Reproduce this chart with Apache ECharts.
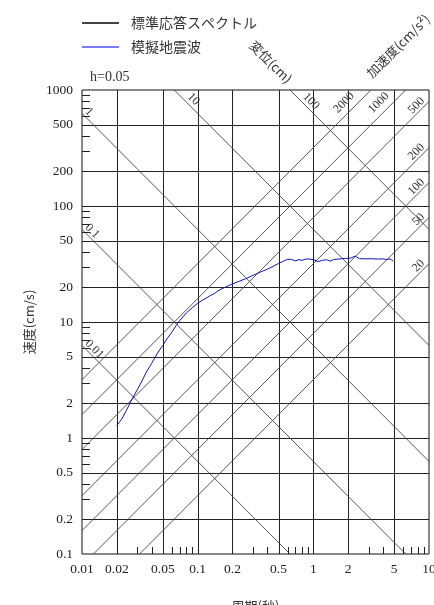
<!DOCTYPE html>
<html>
<head>
<meta charset="utf-8">
<script src="https://cdn.jsdelivr.net/npm/echarts@6/dist/echarts.min.js"></script>
<style>
html,body{margin:0;padding:0;background:#fff;}
#c{width:434px;height:605px;}
</style>
</head>
<body>
<div id="c"></div>
<script>
// ---- data ----
const periodGrid = [0.02, 0.05, 0.1, 0.2, 0.5, 1, 2, 5];
const velocityGrid = [0.2, 0.5, 1, 2, 5, 10, 20, 50, 100, 200, 500];
const xTickLabels = [0.01, 0.02, 0.05, 0.1, 0.2, 0.5, 1, 2, 5, 10];
const yTickLabels = [0.1, 0.2, 0.5, 1, 2, 5, 10, 20, 50, 100, 200, 500, 1000];
const xMinorTicks = [0.03, 0.04, 0.06, 0.07, 0.08, 0.09, 0.3, 0.4, 0.6, 0.7, 0.8, 0.9, 3, 4, 6, 7, 8, 9];
const yMinorTicks = [0.3, 0.4, 0.6, 0.7, 0.8, 0.9, 3, 4, 6, 7, 8, 9, 30, 40, 60, 70, 80, 90, 300, 400, 600, 700, 800, 900];
const displacementLines = [0.01, 0.1, 1, 10, 100];      // cm
const accelerationLines = [20, 50, 100, 200, 500, 1000, 2000]; // cm/s^2
const wavePeriod = [0.020, 0.022, 0.024, 0.026, 0.028, 0.030, 0.033, 0.036, 0.040, 0.045, 0.050, 0.055, 0.060, 0.065, 0.070, 0.080, 0.090, 0.100, 0.110, 0.120, 0.130, 0.140, 0.150, 0.170, 0.200, 0.230, 0.260, 0.300, 0.350, 0.400, 0.450, 0.500, 0.550, 0.600, 0.650, 0.700, 0.750, 0.800, 0.850, 0.900, 1.000, 1.100, 1.200, 1.300, 1.400, 1.500, 1.700, 1.900, 2.100, 2.300, 2.500, 2.800, 3.200, 3.600, 4.000, 4.300, 4.600, 4.900];
const waveVelocity = [1.28, 1.45, 1.70, 2.00, 2.30, 2.60, 3.10, 3.70, 4.40, 5.40, 6.30, 7.30, 8.20, 9.30, 10.3, 12.0, 13.3, 14.5, 15.4, 16.2, 17.0, 17.6, 18.6, 19.8, 21.3, 22.5, 23.6, 25.2, 27.0, 28.5, 30.2, 32.0, 33.4, 34.8, 34.6, 33.6, 34.5, 34.0, 34.7, 35.0, 34.5, 33.2, 34.0, 34.4, 33.5, 34.6, 35.0, 35.3, 35.5, 37.0, 35.2, 35.0, 35.1, 34.9, 35.0, 34.6, 35.0, 33.5];

// ---- derived ----
const T_MIN = 0.01, T_MAX = 10, V_MIN = 0.1, V_MAX = 1000;
const TWO_PI = 2 * Math.PI;

const gridSegs = [];
periodGrid.forEach(t => gridSegs.push([t, V_MIN, t, V_MAX]));
velocityGrid.forEach(v => gridSegs.push([T_MIN, v, T_MAX, v]));

const diagSegs = [];
const diagLabels = [];
const diagTexts = [];
displacementLines.forEach(d => {
  const t1 = Math.max(T_MIN, TWO_PI * d / V_MAX);
  const t2 = Math.min(T_MAX, TWO_PI * d / V_MIN);
  diagSegs.push([t1, TWO_PI * d / t1, t2, TWO_PI * d / t2]);
  diagLabels.push([t1, TWO_PI * d / t1, t1 === T_MIN ? 0 : 1]);
  diagTexts.push(String(d));
});
accelerationLines.forEach(a => {
  const t1 = Math.max(T_MIN, TWO_PI * V_MIN / a);
  const t2 = Math.min(T_MAX, TWO_PI * V_MAX / a);
  diagSegs.push([t1, a * t1 / TWO_PI, t2, a * t2 / TWO_PI]);
  diagLabels.push([t2, a * t2 / TWO_PI, t2 === T_MAX ? 3 : 2]);
  diagTexts.push(String(a));
});

const serif = 'Liberation Serif';
const cjk = 'Noto Sans CJK JP';

function fmt(v) { return String(+(+v).toPrecision(6)); }

function segRender(color, width, crisp) {
  return function (params, api) {
    const p1 = api.coord([api.value(0), api.value(1)]);
    const p2 = api.coord([api.value(2), api.value(3)]);
    let x1 = p1[0], y1 = p1[1], x2 = p2[0], y2 = p2[1];
    if (crisp) {
      if (Math.abs(x1 - x2) < 0.01) { x1 = x2 = Math.round(x1) + 0.5; }
      if (Math.abs(y1 - y2) < 0.01) { y1 = y2 = Math.round(y1) + 0.5; }
    }
    return { type: 'line', shape: { x1, y1, x2, y2 }, style: { stroke: color, lineWidth: width } };
  };
}

const S = Math.SQRT1_2;
const labelCfg = [
  { ux: S, uy: S, nx: S, ny: -S, along: 1, perp: 6, align: 'left', rot: -Math.PI / 4 },
  { ux: S, uy: S, nx: S, ny: -S, along: 14, perp: 7, align: 'left', rot: -Math.PI / 4 },
  { ux: S, uy: -S, nx: -S, ny: -S, along: -16, perp: 10, align: 'right', rot: Math.PI / 4 },
  { ux: S, uy: -S, nx: -S, ny: -S, along: -3, perp: 6, align: 'right', rot: Math.PI / 4 }
];

const chart = echarts.init(document.getElementById('c'), null, { renderer: 'canvas' });
chart.setOption({
  animation: false,
  backgroundColor: '#fff',
  grid: {
    left: 82, right: 5, top: 90, bottom: 51, show: true, borderColor: '#111', borderWidth: 1,
    backgroundColor: 'transparent', containLabel: false, outerBoundsMode: 'none'
  },
  legend: {
    left: 77, top: 11, orient: 'vertical', itemGap: 10, itemWidth: 37, itemHeight: 2, icon: 'rect',
    selectedMode: false,
    textStyle: { fontFamily: cjk, fontSize: 14, color: '#333', padding: [0, 0, 0, 7] },
    data: [
      { name: '標準応答スペクトル', itemStyle: { color: '#444' } },
      { name: '模擬地震波', itemStyle: { color: '#7a7aff' } }
    ]
  },
  xAxis: {
    type: 'log', logBase: 10, min: T_MIN, max: T_MAX,
    axisLine: { show: false }, axisTick: { show: false }, splitLine: { show: false },
    axisLabel: { customValues: xTickLabels, formatter: fmt, margin: 8, fontFamily: serif, fontSize: 13.5, color: '#222' },
    name: '周期(秒)', nameLocation: 'middle', nameGap: 46,
    nameTextStyle: { fontFamily: cjk, fontSize: 13, color: '#333' }
  },
  yAxis: {
    type: 'log', logBase: 10, min: V_MIN, max: V_MAX,
    axisLine: { show: false }, axisTick: { show: false }, splitLine: { show: false },
    axisLabel: { customValues: yTickLabels, formatter: fmt, margin: 9, fontFamily: serif, fontSize: 13.5, color: '#222' },
    name: '速度(cm/s)', nameLocation: 'middle', nameGap: 44, nameRotate: 90,
    nameTextStyle: { fontFamily: cjk, fontSize: 13, color: '#333' }
  },
  graphic: [
    { type: 'text', x: 90, y: 77, style: { text: 'h=0.05', fontFamily: serif, fontSize: 14, fill: '#333', verticalAlign: 'middle' } },
    { type: 'text', x: 271, y: 62, rotation: -Math.PI / 4, style: { text: '変位(cm)', fontFamily: cjk, fontSize: 13, fill: '#333', align: 'center', verticalAlign: 'middle' } },
    { type: 'text', x: 398, y: 46, rotation: Math.PI / 4, style: { text: '加速度(cm/s²)', fontFamily: cjk, fontSize: 13, fill: '#333', align: 'center', verticalAlign: 'middle' } }
  ],
  series: [
    { type: 'custom', name: 'grid', silent: true, z: 2, renderItem: segRender('#222', 1, true), data: gridSegs },
    { type: 'custom', name: 'diag', silent: true, z: 3, renderItem: segRender('#444', 0.9, false), data: diagSegs },
    {
      type: 'custom', name: 'xminor', silent: true, z: 4, data: xMinorTicks.map(t => [t, V_MIN]),
      renderItem: (params, api) => {
        const p = api.coord([api.value(0), api.value(1)]);
        const x = Math.round(p[0]) + 0.5;
        return { type: 'line', shape: { x1: x, y1: p[1], x2: x, y2: p[1] - 7 }, style: { stroke: '#222', lineWidth: 1 } };
      }
    },
    {
      type: 'custom', name: 'yminor', silent: true, z: 4, data: yMinorTicks.map(v => [T_MIN, v]),
      renderItem: (params, api) => {
        const p = api.coord([api.value(0), api.value(1)]);
        const y = Math.round(p[1]) + 0.5;
        return { type: 'line', shape: { x1: p[0], y1: y, x2: p[0] + 8, y2: y }, style: { stroke: '#222', lineWidth: 1 } };
      }
    },
    {
      type: 'custom', name: 'diagLabels', silent: true, z: 5, data: diagLabels,
      renderItem: (params, api) => {
        const p = api.coord([api.value(0), api.value(1)]);
        const c = labelCfg[api.value(2)];
        const x = p[0] + c.along * c.ux + c.perp * c.nx;
        const y = p[1] + c.along * c.uy + c.perp * c.ny;
        return {
          type: 'text', x, y, rotation: c.rot,
          style: { text: diagTexts[params.dataIndex], fontFamily: serif, fontSize: 12, fill: '#333', align: c.align, verticalAlign: 'middle' }
        };
      }
    },
    { type: 'line', name: '標準応答スペクトル', data: [], symbol: 'none', lineStyle: { color: '#444', width: 1 }, itemStyle: { color: '#444' } },
    {
      type: 'line', name: '模擬地震波', z: 10, symbol: 'none', showSymbol: false,
      data: wavePeriod.map((t, i) => [t, waveVelocity[i]]),
      lineStyle: { color: '#1212c0', width: 1 }, itemStyle: { color: '#1212c0' }
    }
  ]
});
</script>
</body>
</html>
